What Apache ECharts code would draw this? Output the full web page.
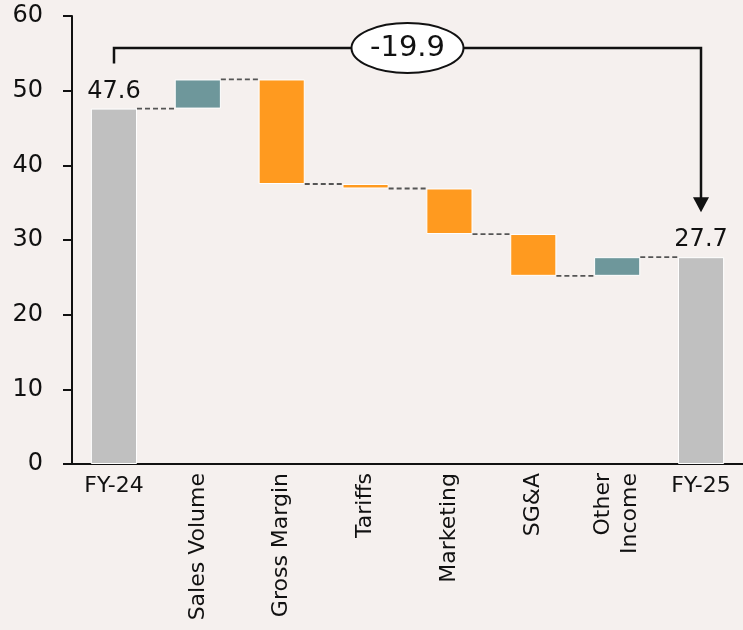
<!DOCTYPE html>
<html>
<head>
<meta charset="utf-8">
<script src="https://cdn.jsdelivr.net/npm/echarts@6/dist/echarts.min.js"></script>
<style>
  html, body { margin: 0; padding: 0; background: #f5f0ee; }
  #chart { width: 743px; height: 630px; }
</style>
</head>
<body>
<div id="chart"></div>
<script>
// Profit bridge FY-24 -> FY-25
const categories = ['FY-24', 'Sales Volume', 'Gross Margin', 'Tariffs', 'Marketing', 'SG&A', 'Other\nIncome', 'FY-25'];
const startValue = 47.6;
const deltas = [3.9, -14.0, -0.6, -6.1, -5.6, 2.5];
const endValue = 27.7;
const yTicks = { min: 0, max: 60, interval: 10 };

const FONT = 'DejaVu Sans';
const INK = '#111111';
const COLOR_TOTAL = '#c0c0c0';
const COLOR_UP = '#6e979b';
const COLOR_DOWN = '#ff9a1f';
const BAR_RATIO = 0.55;

// Running level after each step
const levels = [startValue];
deltas.forEach(d => levels.push(Math.round((levels[levels.length - 1] + d) * 10) / 10));

const lastIdx = categories.length - 1;
const baseData = [0];
const stepData = [{
  value: startValue,
  itemStyle: { color: COLOR_TOTAL },
  label: { show: true }
}];
deltas.forEach((d, i) => {
  baseData.push(Math.min(levels[i], levels[i + 1]));
  stepData.push({
    value: Math.abs(d),
    itemStyle: { color: d >= 0 ? COLOR_UP : COLOR_DOWN },
    label: { show: false }
  });
});
baseData.push(0);
stepData.push({ value: endValue, itemStyle: { color: COLOR_TOTAL }, label: { show: true } });

// Connector lines: level at the end of each bar
const connectorData = levels.map((v, i) => [i, v]);

const chart = echarts.init(document.getElementById('chart'));

chart.setOption({
  backgroundColor: '#f5f0ee',
  animation: false,
  grid: { left: 72, top: 16, width: 675, height: 448, containLabel: false },
  xAxis: [
    {
      type: 'category',
      position: 'bottom',
      data: categories,
      axisLine: { show: true, lineStyle: { color: INK, width: 2 } },
      axisTick: { show: false },
      axisLabel: {
        interval: 0,
        rotate: 90,
        margin: 9,
        fontFamily: FONT,
        fontSize: 22,
        lineHeight: 27,
        color: INK,
        formatter: (v, i) => (i === 0 || i === lastIdx) ? '' : v
      }
    },
    {
      type: 'category',
      position: 'bottom',
      data: categories,
      axisLine: { show: false },
      axisTick: { show: false },
      axisLabel: {
        interval: 0,
        margin: 11,
        fontFamily: FONT,
        fontSize: 22,
        color: INK,
        formatter: (v, i) => (i === 0 || i === lastIdx) ? v : ''
      }
    }
  ],
  yAxis: {
    type: 'value',
    min: yTicks.min,
    max: yTicks.max,
    interval: yTicks.interval,
    splitLine: { show: false },
    axisLine: { show: true, lineStyle: { color: INK, width: 2 } },
    axisTick: { show: true, length: 9, lineStyle: { color: INK, width: 2 } },
    axisLabel: { margin: 29, fontFamily: FONT, fontSize: 24, color: INK }
  },
  series: [
    {
      name: 'base',
      type: 'bar',
      stack: 'bridge',
      barWidth: (BAR_RATIO * 100) + '%',
      itemStyle: { color: 'transparent' },
      emphasis: { disabled: true },
      data: baseData
    },
    {
      name: 'step',
      type: 'bar',
      stack: 'bridge',
      barWidth: (BAR_RATIO * 100) + '%',
      itemStyle: { borderColor: '#ffffff', borderWidth: 1 },
      label: {
        position: 'top',
        distance: 5,
        fontFamily: FONT,
        fontSize: 24,
        color: INK,
        formatter: p => p.value.toFixed(1)
      },
      data: stepData
    },
    {
      name: 'connectors',
      type: 'custom',
      z: 5,
      clip: false,
      encode: { x: 0, y: 1 },
      data: connectorData.slice(0, lastIdx),
      renderItem: (params, api) => {
        const p = api.coord([api.value(0), api.value(1)]);
        const band = api.size([1, 0])[0];
        const half = band * BAR_RATIO / 2;
        return {
          type: 'line',
          shape: { x1: p[0] + half, y1: p[1], x2: p[0] + band - half, y2: p[1] },
          style: { stroke: '#555555', lineWidth: 1.8, lineDash: [5, 3] }
        };
      }
    },
    {
      name: 'total change',
      type: 'custom',
      z: 10,
      clip: false,
      encode: { x: [0, 2], y: [1, 3] },
      data: [[0, startValue, lastIdx, endValue]],
      renderItem: (params, api) => {
        const a = api.coord([api.value(0), api.value(1)]);
        const b = api.coord([api.value(2), api.value(3)]);
        const topY = params.coordSys.y + 32;
        const gap = 45;
        const head = 15;
        const xa = Math.round(a[0]);
        const xb = Math.round(b[0]);
        const tipY = b[1] - gap;
        const cx = (xa + xb) / 2;
        const change = (endValue - startValue).toFixed(1);
        return {
          type: 'group',
          children: [
            {
              type: 'polyline',
              shape: { points: [[xa, a[1] - gap], [xa, topY], [xb, topY], [xb, tipY - head + 1]] },
              style: { stroke: INK, lineWidth: 2.5, fill: null }
            },
            {
              type: 'polygon',
              shape: { points: [[xb - 8, tipY - head], [xb + 8, tipY - head], [xb, tipY]] },
              style: { fill: INK }
            },
            {
              type: 'ellipse',
              shape: { cx: cx, cy: topY, rx: 56, ry: 25 },
              style: { fill: '#ffffff', stroke: INK, lineWidth: 2 }
            },
            {
              type: 'text',
              x: cx,
              y: topY,
              style: {
                text: change,
                fontFamily: FONT,
                fontSize: 29,
                fill: INK,
                align: 'center',
                verticalAlign: 'middle'
              }
            }
          ]
        };
      }
    }
  ]
});
</script>
</body>
</html>
